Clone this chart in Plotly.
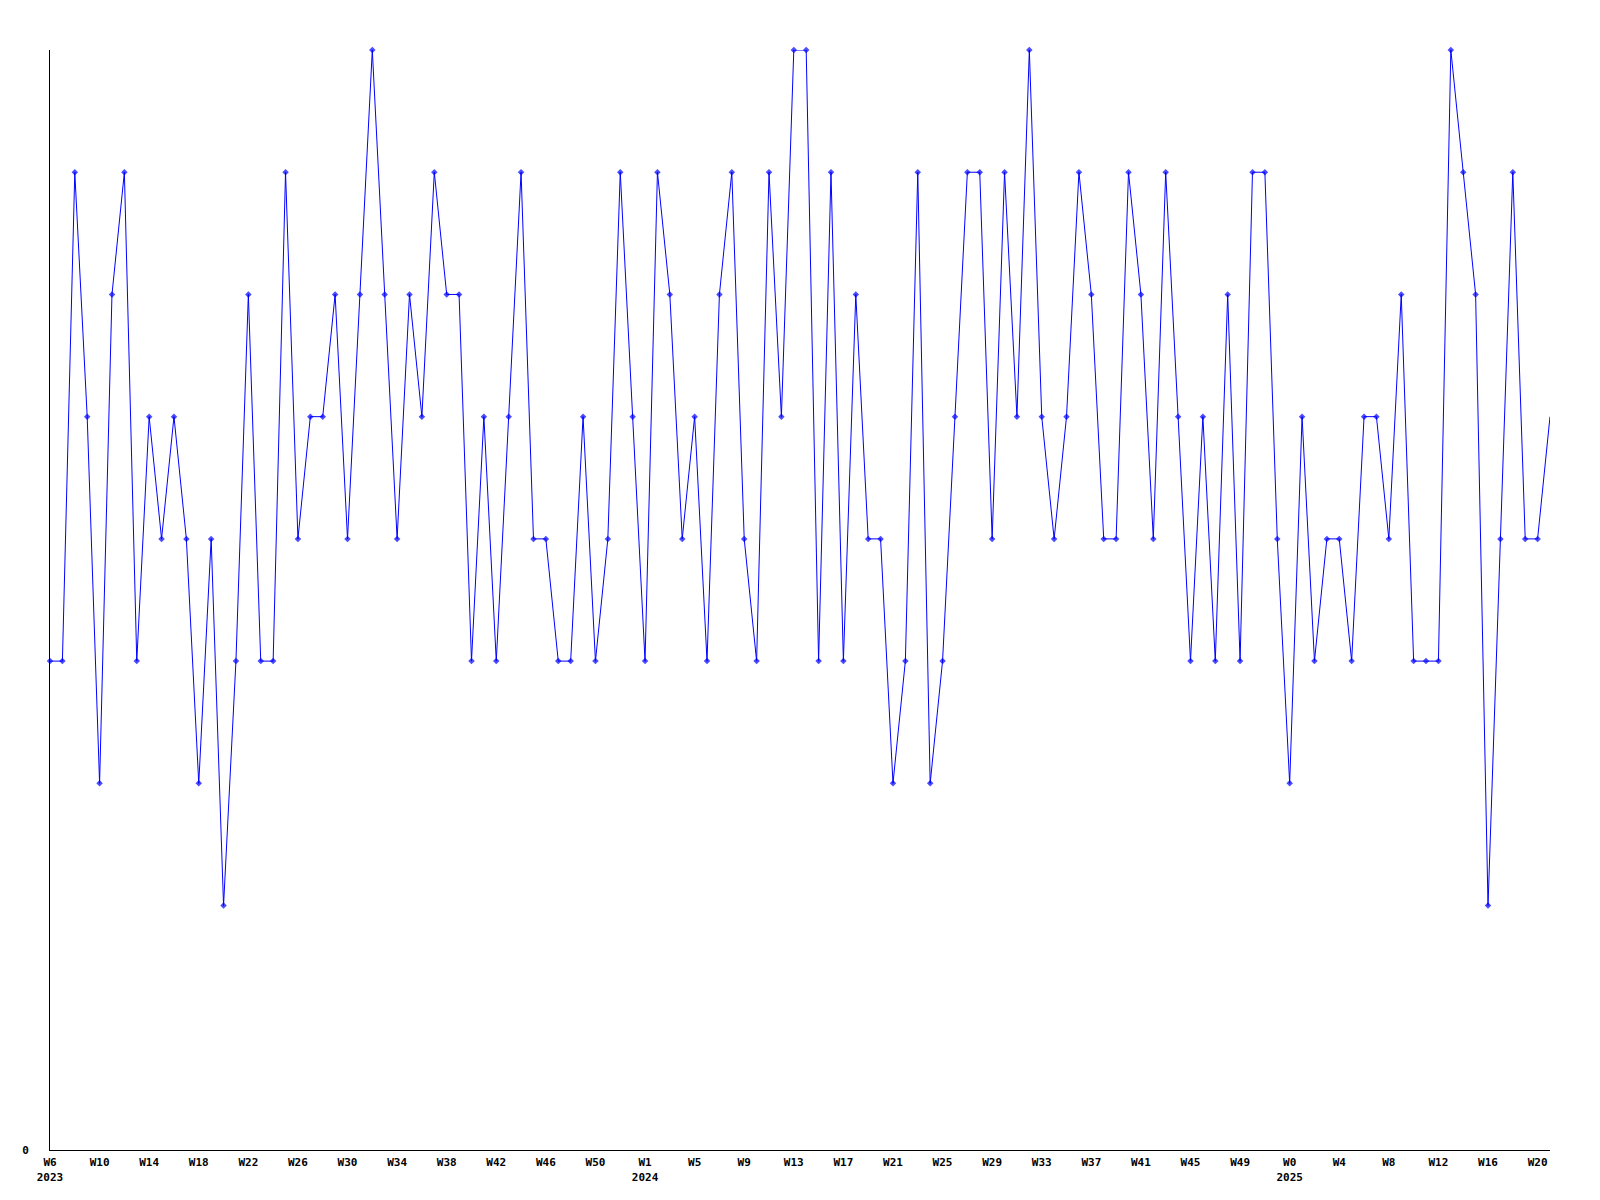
import plotly.graph_objects as go

# Weekly categories (year, week number) as shown on the axis
years = [2023] * 48 + [2024] * 52 + [2025] * 22
week_numbers = list(range(6, 54)) + list(range(1, 53)) + list(range(0, 22))
categories = [f"{y}-W{w:02d}" for y, w in zip(years, week_numbers)]

values = [
    4, 4, 8, 6, 3, 7, 8, 4, 6, 5,
    6, 5, 3, 5, 2, 4, 7, 4, 4, 8,
    5, 6, 6, 7, 5, 7, 9, 7, 5, 7,
    6, 8, 7, 7, 4, 6, 4, 6, 8, 5,
    5, 4, 4, 6, 4, 5, 8, 6, 4, 8,
    7, 5, 6, 4, 7, 8, 5, 4, 8, 6,
    9, 9, 4, 8, 4, 7, 5, 5, 3, 4,
    8, 3, 4, 6, 8, 8, 5, 8, 6, 9,
    6, 5, 6, 8, 7, 5, 5, 8, 7, 5,
    8, 6, 4, 6, 4, 7, 4, 8, 8, 5,
    3, 6, 4, 5, 5, 4, 6, 6, 5, 7,
    4, 4, 4, 9, 8, 7, 2, 5, 8, 5,
    5, 6,
]

tick_labels = [
    "W6<br>2023", "W10", "W14", "W18", "W22", "W26", "W30", "W34", "W38", "W42", "W46", "W50",
    "W1<br>2024", "W5", "W9", "W13", "W17", "W21", "W25", "W29", "W33", "W37", "W41", "W45", "W49",
    "W0<br>2025", "W4", "W8", "W12", "W16", "W20",
]
tick_categories = categories[::4]

y_tick_values = [0]
y_tick_labels = ["0"]

n = len(values)
marker_sizes = [5] * (n - 1) + [0]

font_mono = dict(family="DejaVu Sans Mono", size=11, color="black", weight="bold")

fig = go.Figure()
fig.add_trace(go.Scatter(
    x=categories,
    y=values,
    mode="lines+markers",
    line=dict(color="#0000FF", width=1),
    marker=dict(symbol="diamond", size=marker_sizes, color="#0000FF", line=dict(width=0)),
    cliponaxis=False,
    showlegend=False,
))

fig.update_layout(
    width=1600,
    height=1200,
    margin=dict(l=42, r=58, t=42, b=58),
    paper_bgcolor="white",
    plot_bgcolor="white",
    font=font_mono,
)

fig.update_xaxes(
    type="category",
    range=[0, n - 1],
    tickmode="array",
    tickvals=tick_categories,
    ticktext=tick_labels,
    tickangle=0,
    showline=True,
    linecolor="black",
    linewidth=1,
    showgrid=False,
    zeroline=False,
    ticks="",
    ticklabelstandoff=2,
    tickfont=font_mono,
)

fig.update_yaxes(
    range=[0, 9],
    tickmode="array",
    tickvals=y_tick_values,
    ticktext=y_tick_labels,
    showline=True,
    linecolor="black",
    linewidth=1,
    showgrid=False,
    zeroline=False,
    ticks="",
    ticklabelstandoff=18,
    tickfont=font_mono,
)

fig.write_html("out.html")
